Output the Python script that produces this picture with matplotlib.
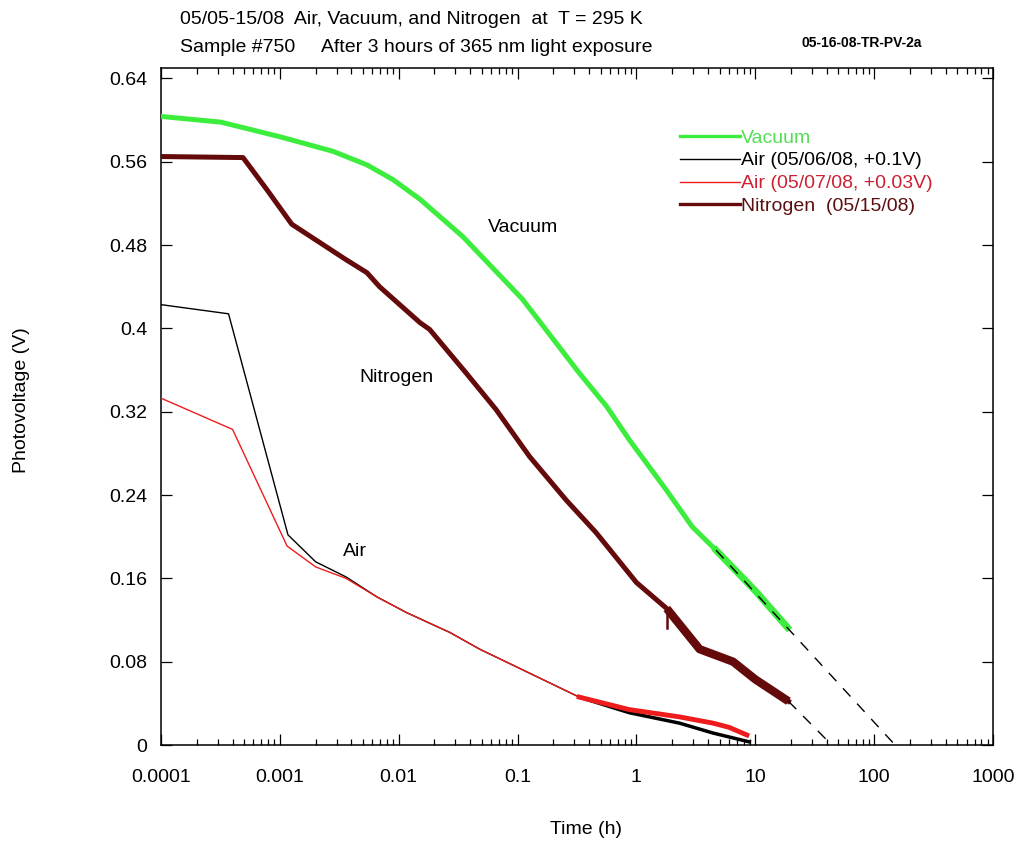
"""Photovoltage decay in air, vacuum and nitrogen (sample #750)."""
import matplotlib
matplotlib.use("Agg")
import matplotlib.pyplot as plt
from matplotlib.lines import Line2D
from matplotlib.ticker import FixedLocator, FixedFormatter, LogLocator, NullFormatter

plt.rcParams["font.family"] = ["Liberation Sans", "DejaVu Sans"]

# ---- data (time in hours, photovoltage in V) ----
vac_t = [1e-4, 3.2e-4, 1e-3, 2.8e-3, 5.4e-3, 8.9e-3, 0.0151, 0.0347, 0.11,
         0.331, 0.562, 0.871, 1.78, 2.95, 4.68, 10.0, 18.6]
vac_v = [0.6035, 0.598, 0.584, 0.570, 0.557, 0.543, 0.524, 0.488, 0.428,
         0.357, 0.325, 0.293, 0.245, 0.2095, 0.187, 0.148, 0.113]

n2_t = [1e-4, 4.9e-4, 7.8e-4, 1.26e-3, 3.6e-3, 5.4e-3, 6.9e-3, 0.0151, 0.0182,
        0.037, 0.066, 0.126, 0.257, 0.457, 1.0, 1.8, 3.4, 6.5,
        10.0, 14.0, 19.0]
n2_v = [0.565, 0.564, 0.533, 0.500, 0.466, 0.4535, 0.440, 0.4055, 0.399,
        0.357, 0.322, 0.277, 0.235, 0.204, 0.156, 0.131, 0.092,
        0.080, 0.063, 0.052, 0.042]
# short downward glitch in the nitrogen trace near 1.8 h
n2_glitch_t = [1.8, 1.8]
n2_glitch_v = [0.131, 0.112]

air1_t = [1e-4, 3.7e-4, 1.17e-3, 2.0e-3, 3.6e-3, 6.6e-3, 0.0117, 0.027, 0.048,
          0.098, 0.33, 0.87, 2.3, 4.4, 8.9]
air1_v = [0.4228, 0.414, 0.2018, 0.1759, 0.1614, 0.142, 0.127, 0.108, 0.092,
          0.075, 0.046, 0.031, 0.021, 0.0115, 0.003]

air2_t = [1e-4, 4.0e-4, 1.15e-3, 2.0e-3, 3.6e-3, 6.6e-3, 0.0117, 0.027, 0.048,
          0.098, 0.33, 0.87, 2.3, 4.4, 6.0, 8.5]
air2_v = [0.333, 0.303, 0.191, 0.171, 0.160, 0.142, 0.127, 0.108, 0.092,
          0.075, 0.046, 0.034, 0.027, 0.021, 0.017, 0.0096]

# extrapolation guides (dashed)
vac_fit_t = [4.68, 150.0]
vac_fit_v = [0.187, 0.0]
n2_fit_t = [19.0, 44.0]
n2_fit_v = [0.042, 0.0]

labels = ["Vacuum", "Air (05/06/08, +0.1V)", "Air (05/07/08, +0.03V)",
          "Nitrogen  (05/15/08)"]
xticks = [1e-4, 1e-3, 1e-2, 0.1, 1, 10, 100, 1000]
xtick_labels = ["0.0001", "0.001", "0.01", "0.1", "1", "10", "100", "1000"]
yticks = [0, 0.08, 0.16, 0.24, 0.32, 0.4, 0.48, 0.56, 0.64]
ytick_labels = ["0", "0.08", "0.16", "0.24", "0.32", "0.4", "0.48", "0.56", "0.64"]

GREEN = "#3ded3d"
MAROON = "#650a0a"
RED = "#ee1c1c"
FS = 14

fig = plt.figure(figsize=(10.21, 8.41), dpi=100)
ax = fig.add_axes([161 / 1021, 1 - 745 / 841, (993 - 161) / 1021, (745 - 68) / 841])

ax.plot(vac_t, vac_v, color=GREEN, lw=3.6, solid_joinstyle="round", zorder=3)
tailv = [i for i, t in enumerate(vac_t) if t >= 4.0]
ax.plot([vac_t[i] for i in tailv], [vac_v[i] for i in tailv], color=GREEN, lw=5, zorder=3)

ax.plot(n2_t, n2_v, color=MAROON, lw=3.6, solid_joinstyle="round", zorder=3)
tail = [i for i, t in enumerate(n2_t) if t >= 1.8]
ax.plot([n2_t[i] for i in tail], [n2_v[i] for i in tail], color=MAROON, lw=6,
        solid_capstyle="butt", zorder=3)
ax.plot(n2_glitch_t, n2_glitch_v, color=MAROON, lw=1.8, zorder=3)

ax.plot(air1_t, air1_v, color="black", lw=1.0, zorder=4)
ax.plot(air2_t, air2_v, color=RED, lw=1.0, zorder=4)
tail1 = [i for i, t in enumerate(air1_t) if t >= 0.33]
tail2 = [i for i, t in enumerate(air2_t) if t >= 0.2]
ax.plot([air1_t[i] for i in tail1], [air1_v[i] for i in tail1], color="black", lw=2.5, zorder=4)
ax.plot([air2_t[i] for i in tail2], [air2_v[i] for i in tail2], color=RED, lw=3.5, zorder=5)

ax.plot(vac_fit_t, vac_fit_v, color="black", lw=1.0, ls=(0, (8, 7)), zorder=6)
ax.plot(n2_fit_t, n2_fit_v, color="black", lw=1.0, ls=(0, (8, 7)), zorder=6)

ax.set_xscale("log")
ax.set_xlim(1e-4, 1000)
ax.set_ylim(0, 0.65)
ax.xaxis.set_major_locator(FixedLocator(xticks))
ax.xaxis.set_major_formatter(FixedFormatter(xtick_labels))
ax.xaxis.set_minor_locator(LogLocator(base=10, subs=range(2, 10), numticks=20))
ax.xaxis.set_minor_formatter(NullFormatter())
ax.yaxis.set_major_locator(FixedLocator(yticks))
ax.yaxis.set_major_formatter(FixedFormatter(ytick_labels))

ax.tick_params(which="both", direction="in", top=True, right=True, width=0.9,
               labelsize=FS)
ax.tick_params(which="major", length=8)
ax.tick_params(which="minor", length=4.5)
ax.tick_params(axis="x", pad=17)
ax.tick_params(axis="y", pad=10)
for s in ax.spines.values():
    s.set_linewidth(1.1)

# in-plot curve names
ax.text(0.056, 0.497, "Vacuum", fontsize=FS, ha="left", va="center")
ax.text(0.0047, 0.353, "Nitrogen", fontsize=FS, ha="left", va="center")
ax.text(0.0034, 0.1855, "Air", fontsize=FS, ha="left", va="center")

handles = [Line2D([], [], color=GREEN, lw=2.4),
           Line2D([], [], color="black", lw=1.0),
           Line2D([], [], color=RED, lw=1.0),
           Line2D([], [], color=MAROON, lw=2.4)]
ax.legend(handles, labels, loc="upper left",
          bbox_to_anchor=(680 / 1021, 1 - 129 / 841), bbox_transform=fig.transFigure,
          frameon=False, fontsize=FS, handlelength=3.1, handletextpad=0.05,
          labelspacing=0.27, borderpad=0, borderaxespad=0,
          labelcolor=["#55dd55", "black", "#cc2233", "#5a1010"])

fig.text(180 / 1021, 1 - 20 / 841, "05/05-15/08  Air, Vacuum, and Nitrogen  at  T = 295 K",
         fontsize=FS, ha="left", va="center")
fig.text(180 / 1021, 1 - 48 / 841, "Sample #750     After 3 hours of 365 nm light exposure",
         fontsize=FS, ha="left", va="center")
fig.text(862 / 1021, 1 - 43 / 841, "05-16-08-TR-PV-2a", fontsize=10, fontweight="bold",
         ha="center", va="center")

fig.text(22 / 1021, 1 - 400 / 841, "Photovoltage (V)", fontsize=FS, rotation=90,
         ha="center", va="center")
fig.text(586 / 1021, 1 - 830 / 841, "Time (h)", fontsize=FS, ha="center", va="center")

fig.savefig("out.png", dpi=100)
